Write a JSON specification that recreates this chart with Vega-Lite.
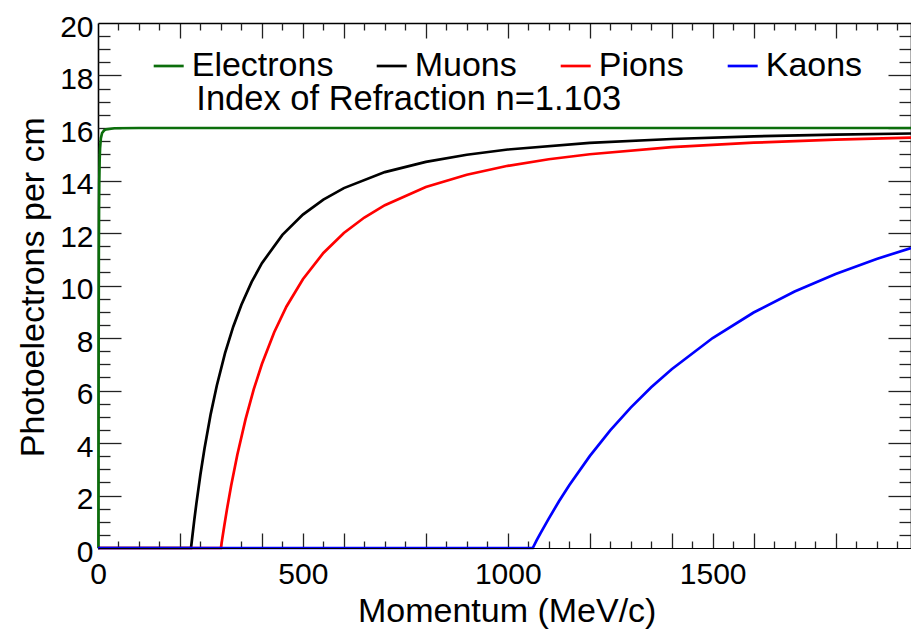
{
  "$schema": "https://vega.github.io/schema/vega-lite/v6.json",
  "width": 813,
  "height": 525,
  "autosize": {"type": "none"},
  "padding": {"left": 98, "top": 23, "right": 0, "bottom": 84},
  "background": "white",
  "config": {
    "font": "Liberation Sans",
    "view": {"stroke": null},
    "axis": {
      "grid": false,
      "labelFlush": false,
      "labelOverlap": false,
      "domainColor": "#000000",
      "domainWidth": 1.6,
      "tickColor": "#222222",
      "tickWidth": 1.3,
      "labelColor": "#000000",
      "titleColor": "#000000",
      "labelFont": "Liberation Sans",
      "titleFont": "Liberation Sans",
      "titleFontWeight": "normal"
    },
    "line": {"strokeWidth": 2.7}
  },
  "data": {
    "values": [
      {"particle": "Electrons", "momentum": 0, "photoelectrons": 0},
      {"particle": "Electrons", "momentum": 1.1, "photoelectrons": 0},
      {"particle": "Electrons", "momentum": 1.2, "photoelectrons": 2.6},
      {"particle": "Electrons", "momentum": 1.3, "photoelectrons": 4.59},
      {"particle": "Electrons", "momentum": 1.5, "photoelectrons": 7.43},
      {"particle": "Electrons", "momentum": 2, "photoelectrons": 11.18},
      {"particle": "Electrons", "momentum": 2.5, "photoelectrons": 12.91},
      {"particle": "Electrons", "momentum": 3, "photoelectrons": 13.86},
      {"particle": "Electrons", "momentum": 4, "photoelectrons": 14.79},
      {"particle": "Electrons", "momentum": 5, "photoelectrons": 15.23},
      {"particle": "Electrons", "momentum": 7, "photoelectrons": 15.61},
      {"particle": "Electrons", "momentum": 10, "photoelectrons": 15.81},
      {"particle": "Electrons", "momentum": 15, "photoelectrons": 15.91},
      {"particle": "Electrons", "momentum": 20, "photoelectrons": 15.95},
      {"particle": "Electrons", "momentum": 40, "photoelectrons": 15.99},
      {"particle": "Electrons", "momentum": 100, "photoelectrons": 16},
      {"particle": "Electrons", "momentum": 500, "photoelectrons": 16},
      {"particle": "Electrons", "momentum": 1000, "photoelectrons": 16},
      {"particle": "Electrons", "momentum": 1500, "photoelectrons": 16},
      {"particle": "Electrons", "momentum": 1984, "photoelectrons": 16},

      {"particle": "Muons", "momentum": 0, "photoelectrons": 0},
      {"particle": "Muons", "momentum": 227, "photoelectrons": 0},
      {"particle": "Muons", "momentum": 230, "photoelectrons": 0.41},
      {"particle": "Muons", "momentum": 235, "photoelectrons": 1.07},
      {"particle": "Muons", "momentum": 240, "photoelectrons": 1.68},
      {"particle": "Muons", "momentum": 250, "photoelectrons": 2.81},
      {"particle": "Muons", "momentum": 260, "photoelectrons": 3.8},
      {"particle": "Muons", "momentum": 275, "photoelectrons": 5.1},
      {"particle": "Muons", "momentum": 290, "photoelectrons": 6.19},
      {"particle": "Muons", "momentum": 310, "photoelectrons": 7.42},
      {"particle": "Muons", "momentum": 330, "photoelectrons": 8.43},
      {"particle": "Muons", "momentum": 350, "photoelectrons": 9.27},
      {"particle": "Muons", "momentum": 375, "photoelectrons": 10.14},
      {"particle": "Muons", "momentum": 400, "photoelectrons": 10.85},
      {"particle": "Muons", "momentum": 450, "photoelectrons": 11.93},
      {"particle": "Muons", "momentum": 500, "photoelectrons": 12.7},
      {"particle": "Muons", "momentum": 550, "photoelectrons": 13.27},
      {"particle": "Muons", "momentum": 600, "photoelectrons": 13.71},
      {"particle": "Muons", "momentum": 700, "photoelectrons": 14.32},
      {"particle": "Muons", "momentum": 800, "photoelectrons": 14.71},
      {"particle": "Muons", "momentum": 900, "photoelectrons": 14.98},
      {"particle": "Muons", "momentum": 1000, "photoelectrons": 15.18},
      {"particle": "Muons", "momentum": 1200, "photoelectrons": 15.43},
      {"particle": "Muons", "momentum": 1400, "photoelectrons": 15.58},
      {"particle": "Muons", "momentum": 1600, "photoelectrons": 15.68},
      {"particle": "Muons", "momentum": 1800, "photoelectrons": 15.75},
      {"particle": "Muons", "momentum": 1984, "photoelectrons": 15.79},

      {"particle": "Pions", "momentum": 0, "photoelectrons": 0},
      {"particle": "Pions", "momentum": 300, "photoelectrons": 0},
      {"particle": "Pions", "momentum": 303, "photoelectrons": 0.33},
      {"particle": "Pions", "momentum": 308, "photoelectrons": 0.83},
      {"particle": "Pions", "momentum": 315, "photoelectrons": 1.5},
      {"particle": "Pions", "momentum": 325, "photoelectrons": 2.38},
      {"particle": "Pions", "momentum": 340, "photoelectrons": 3.55},
      {"particle": "Pions", "momentum": 360, "photoelectrons": 4.9},
      {"particle": "Pions", "momentum": 380, "photoelectrons": 6.04},
      {"particle": "Pions", "momentum": 400, "photoelectrons": 7.01},
      {"particle": "Pions", "momentum": 430, "photoelectrons": 8.22},
      {"particle": "Pions", "momentum": 460, "photoelectrons": 9.2},
      {"particle": "Pions", "momentum": 500, "photoelectrons": 10.24},
      {"particle": "Pions", "momentum": 550, "photoelectrons": 11.24},
      {"particle": "Pions", "momentum": 600, "photoelectrons": 12},
      {"particle": "Pions", "momentum": 650, "photoelectrons": 12.59},
      {"particle": "Pions", "momentum": 700, "photoelectrons": 13.06},
      {"particle": "Pions", "momentum": 800, "photoelectrons": 13.75},
      {"particle": "Pions", "momentum": 900, "photoelectrons": 14.22},
      {"particle": "Pions", "momentum": 1000, "photoelectrons": 14.56},
      {"particle": "Pions", "momentum": 1100, "photoelectrons": 14.81},
      {"particle": "Pions", "momentum": 1200, "photoelectrons": 15},
      {"particle": "Pions", "momentum": 1400, "photoelectrons": 15.27},
      {"particle": "Pions", "momentum": 1600, "photoelectrons": 15.44},
      {"particle": "Pions", "momentum": 1800, "photoelectrons": 15.56},
      {"particle": "Pions", "momentum": 1984, "photoelectrons": 15.63},

      {"particle": "Kaons", "momentum": 0, "photoelectrons": 0},
      {"particle": "Kaons", "momentum": 1061, "photoelectrons": 0},
      {"particle": "Kaons", "momentum": 1070, "photoelectrons": 0.28},
      {"particle": "Kaons", "momentum": 1080, "photoelectrons": 0.57},
      {"particle": "Kaons", "momentum": 1100, "photoelectrons": 1.12},
      {"particle": "Kaons", "momentum": 1125, "photoelectrons": 1.78},
      {"particle": "Kaons", "momentum": 1150, "photoelectrons": 2.39},
      {"particle": "Kaons", "momentum": 1200, "photoelectrons": 3.5},
      {"particle": "Kaons", "momentum": 1250, "photoelectrons": 4.48},
      {"particle": "Kaons", "momentum": 1300, "photoelectrons": 5.35},
      {"particle": "Kaons", "momentum": 1350, "photoelectrons": 6.12},
      {"particle": "Kaons", "momentum": 1400, "photoelectrons": 6.81},
      {"particle": "Kaons", "momentum": 1500, "photoelectrons": 8},
      {"particle": "Kaons", "momentum": 1600, "photoelectrons": 8.97},
      {"particle": "Kaons", "momentum": 1700, "photoelectrons": 9.77},
      {"particle": "Kaons", "momentum": 1800, "photoelectrons": 10.44},
      {"particle": "Kaons", "momentum": 1900, "photoelectrons": 11.01},
      {"particle": "Kaons", "momentum": 1984, "photoelectrons": 11.43}
    ]
  },
  "resolve": {"axis": {"x": "independent", "y": "independent"}},
  "layer": [
    {
      "transform": [{"filter": {"field": "particle", "equal": "Electrons"}}],
      "mark": {"type": "line"},
      "encoding": {
        "x": {
          "field": "momentum", "type": "quantitative",
          "scale": {"domain": [0, 1984], "nice": false},
          "axis": {
            "orient": "bottom", "values": [0, 500, 1000, 1500], "format": "d",
            "ticks": false, "domain": true, "domainWidth": 1, "zindex": 1,
            "labelFontSize": 30, "labelPadding": 11,
            "title": "Momentum (MeV/c)", "titleFontSize": 34,
            "titleX": 408.7, "titleY": 73.4,
            "titleBaseline": "alphabetic", "titleAlign": "center"
          }
        },
        "y": {
          "field": "photoelectrons", "type": "quantitative",
          "scale": {"domain": [0, 20], "nice": false},
          "axis": {
            "orient": "left", "values": [0, 2, 4, 6, 8, 10, 12, 14, 16, 18, 20], "format": "d",
            "ticks": false, "domain": true,
            "labelFontSize": 30, "labelPadding": 5, "labelOffset": 4,
            "title": "Photoelectrons per cm", "titleFontSize": 34,
            "titleX": -54.7, "titleY": 263.7, "titleAngle": -90,
            "titleBaseline": "alphabetic", "titleAlign": "center"
          }
        },
        "color": {
          "field": "particle", "type": "nominal",
          "scale": {
            "domain": ["Electrons", "Muons", "Pions", "Kaons"],
            "range": ["#0b6e0b", "#000000", "#ff0000", "#0000ff"]
          },
          "legend": {
            "orient": "none", "legendX": 53.7, "legendY": 26,
            "direction": "horizontal", "columns": 4, "title": null,
            "symbolType": "stroke", "symbolSize": 900, "symbolStrokeWidth": 2.5,
            "labelFontSize": 34, "labelFont": "Liberation Sans", "labelColor": "#000000",
            "labelOffset": 6, "columnPadding": 37, "padding": 0, "labelLimit": 0
          }
        }
      }
    },
    {
      "transform": [{"filter": {"field": "particle", "equal": "Muons"}}],
      "mark": {"type": "line"},
      "encoding": {
        "x": {
          "field": "momentum", "type": "quantitative",
          "axis": {
            "orient": "bottom",
            "values": [200, 400, 500, 600, 800, 1000, 1200, 1400, 1500, 1600, 1800],
            "tickSize": -15, "labels": false, "domain": false, "title": null
          }
        },
        "y": {
          "field": "photoelectrons", "type": "quantitative",
          "axis": {
            "orient": "left", "values": [2, 4, 6, 8, 10, 12, 14, 16, 18],
            "tickSize": -23, "labels": false, "domain": false, "title": null
          }
        },
        "color": {"field": "particle", "type": "nominal"}
      }
    },
    {
      "transform": [{"filter": {"field": "particle", "equal": "Pions"}}],
      "mark": {"type": "line"},
      "encoding": {
        "x": {
          "field": "momentum", "type": "quantitative",
          "axis": {
            "orient": "bottom",
            "values": [50, 100, 150, 250, 300, 350, 450, 550, 650, 700, 750, 850, 900, 950, 1050, 1100, 1150, 1250, 1300, 1350, 1450, 1550, 1650, 1700, 1750, 1850, 1900, 1950],
            "tickSize": -7, "labels": false, "domain": false, "title": null
          }
        },
        "y": {
          "field": "photoelectrons", "type": "quantitative",
          "axis": {
            "orient": "left",
            "values": [0.5, 1, 1.5, 2.5, 3, 3.5, 4.5, 5, 5.5, 6.5, 7, 7.5, 8.5, 9, 9.5, 10.5, 11, 11.5, 12.5, 13, 13.5, 14.5, 15, 15.5, 16.5, 17, 17.5, 18.5, 19, 19.5],
            "tickSize": -12, "labels": false, "domain": false, "title": null
          }
        },
        "color": {"field": "particle", "type": "nominal"}
      }
    },
    {
      "transform": [{"filter": {"field": "particle", "equal": "Kaons"}}],
      "mark": {"type": "line"},
      "encoding": {
        "x": {
          "field": "momentum", "type": "quantitative",
          "axis": {
            "orient": "top",
            "values": [200, 400, 500, 600, 800, 1000, 1200, 1400, 1500, 1600, 1800],
            "tickSize": -15, "labels": false, "domain": true, "title": null
          }
        },
        "y": {
          "field": "photoelectrons", "type": "quantitative",
          "axis": {
            "orient": "right", "values": [2, 4, 6, 8, 10, 12, 14, 16, 18],
            "tickSize": -23, "labels": false, "domain": true, "title": null
          }
        },
        "color": {"field": "particle", "type": "nominal"}
      }
    },
    {
      "data": {"values": [{"note": "Index of Refraction n=1.103"}]},
      "mark": {
        "type": "text", "align": "left", "baseline": "alphabetic",
        "fontSize": 34.5, "font": "Liberation Sans", "color": "#000000"
      },
      "encoding": {
        "x": {
          "datum": 240, "type": "quantitative",
          "axis": {
            "orient": "top",
            "values": [50, 100, 150, 250, 300, 350, 450, 550, 650, 700, 750, 850, 900, 950, 1050, 1100, 1150, 1250, 1300, 1350, 1450, 1550, 1650, 1700, 1750, 1850, 1900, 1950],
            "tickSize": -7, "labels": false, "domain": false, "title": null
          }
        },
        "y": {
          "datum": 16.7, "type": "quantitative",
          "axis": {
            "orient": "right",
            "values": [0.5, 1, 1.5, 2.5, 3, 3.5, 4.5, 5, 5.5, 6.5, 7, 7.5, 8.5, 9, 9.5, 10.5, 11, 11.5, 12.5, 13, 13.5, 14.5, 15, 15.5, 16.5, 17, 17.5, 18.5, 19, 19.5],
            "tickSize": -12, "labels": false, "domain": false, "title": null
          }
        },
        "text": {"field": "note", "type": "nominal"}
      }
    }
  ]
}
